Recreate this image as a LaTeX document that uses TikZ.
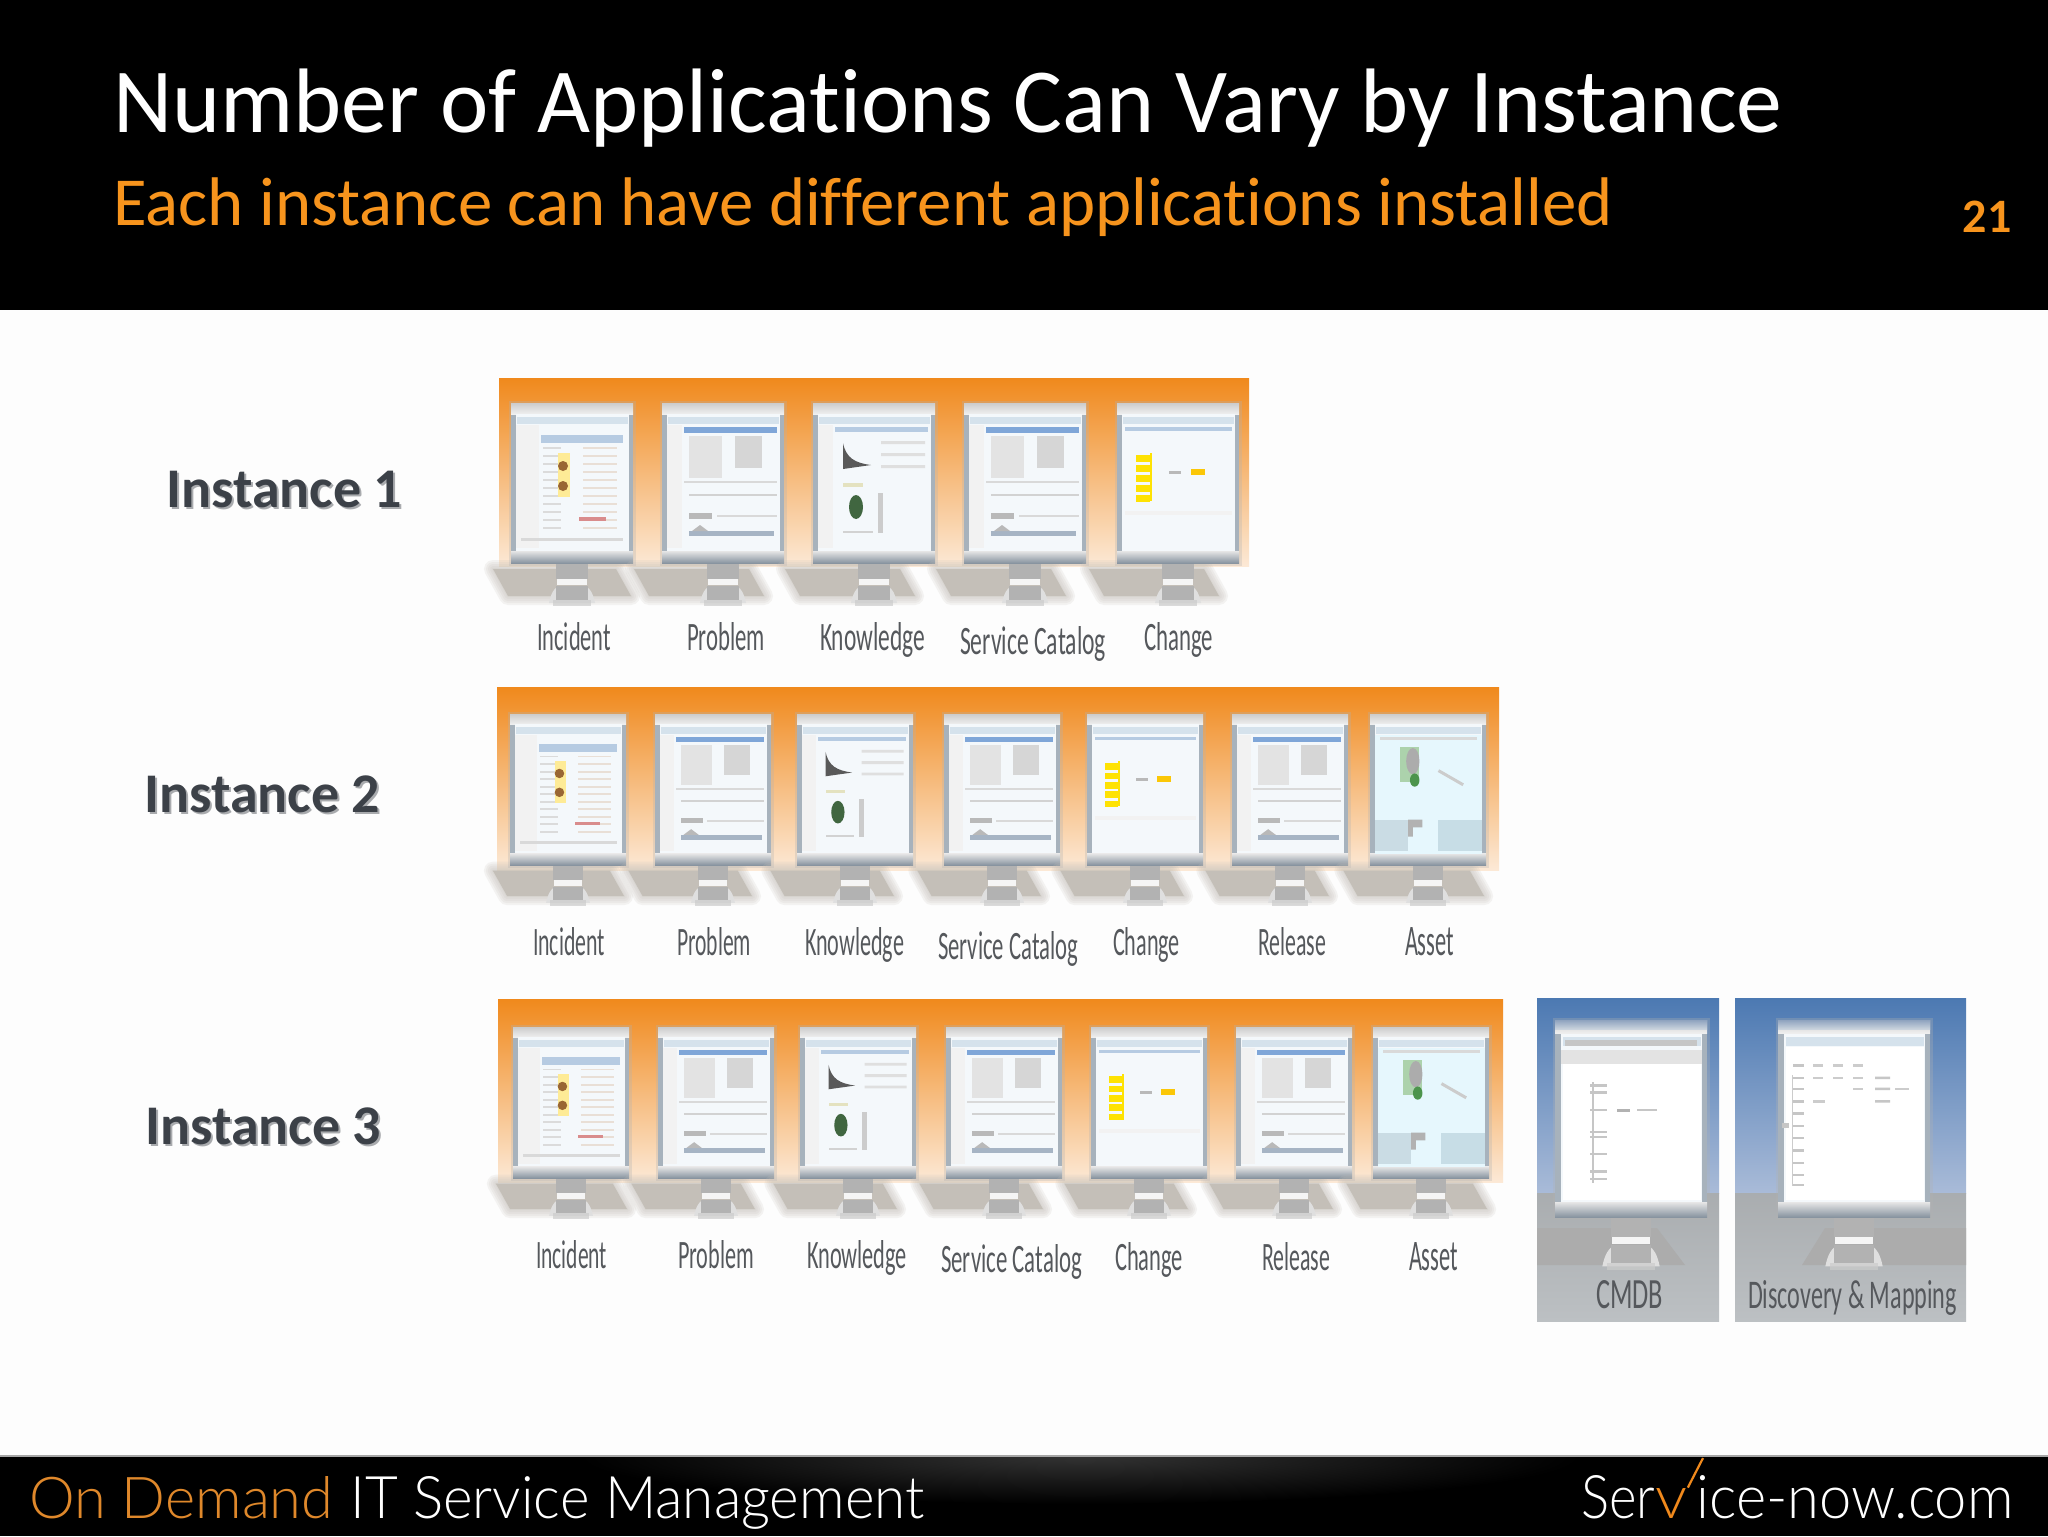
\documentclass[tikz,border=0pt]{standalone}
\usepackage{fontspec}
\setmainfont[Ligatures=NoCommon]{Carlito}
\newfontfamily\footfont[UprightFont=* Light]{Lato}
\usetikzlibrary{calc}
\definecolor{ornge}{HTML}{F0891C}
\definecolor{subor}{HTML}{F7941D}
\definecolor{orfade}{HTML}{FCE9D6}
\definecolor{floorg}{HTML}{C4BFB8}
\definecolor{bezel}{HTML}{A7B2BC}
\definecolor{labelg}{HTML}{55585C}
\definecolor{instg}{HTML}{3C4148}
\definecolor{instsh}{HTML}{A9ABAE}
\definecolor{skyt}{HTML}{4C79B2}
\definecolor{skyb}{HTML}{A9BBD8}
\definecolor{flor}{HTML}{BCC0C3}
\definecolor{scrn}{HTML}{F4F8FB}
\definecolor{tbar}{HTML}{D5E2EC}
\definecolor{hdrb}{HTML}{B6CBE2}
\definecolor{hdrs}{HTML}{7FA6D8}
\definecolor{botb}{HTML}{8894A0}
\definecolor{bigtop}{HTML}{8FA3BF}
\definecolor{bigtopb}{HTML}{D0D8E0}
\newcounter{lb}
\tikzset{
  lab/.style={anchor=base,inner sep=0pt,text=labelg},
  inst/.style={anchor=base west,inner sep=0pt,font=\fontsize{28}{30}\selectfont\bfseries},
  foot/.style={anchor=base west,inner sep=0pt,font=\footfont},
}
% blurred floor shadow, local monitor coordinates
\newcommand{\flshadow}[2]{%
  \foreach \lw in {9,7,5,3,1}{%
    \draw[floorg,opacity=.17,line width=\lw,line join=round] (#1,166) -- (#2,166) -- (#2+15,193) -- (#1+15,193) -- cycle;}
  \fill[floorg] (#1,166) -- (#2,166) -- (#2+15,193) -- (#1+15,193) -- cycle;
}
\newcommand{\stand}{%
  \fill[gray!60] (45,160) rectangle (77,176);
  \fill[white!92!gray] (46,176) rectangle (76,182);
  \fill[white!75!gray] (38,200) .. controls (40,190) and (43,186) .. (46,184) -- (76,184) .. controls (79,186) and (82,190) .. (84,200) -- cycle;
  \fill[gray!60] (45,183) rectangle (77,197);
  \fill[gray!40,opacity=.7] (42,197) rectangle (80,203);
}
\newcommand{\frm}{%
  \draw[gray!60,opacity=.3,line width=2.5] (0,0) rectangle (122,160);
  \fill[bezel] (0,0) rectangle (122,160);
  \shade[top color=gray!40,bottom color=gray!12] (0,0) rectangle (122,11);
  \fill[scrn] (5,11) rectangle (118,148);
  \shade[top color=gray!20,bottom color=botb] (0,148) rectangle (122,160);
  \fill[tbar] (6,14) rectangle (117,21);
}
\newcommand{\incidentapp}{%
  \fill[gray!10] (5,22) rectangle (28,145);
  \fill[hdrb] (30,32) rectangle (112,40);
  \foreach \yy in {44,52,...,124} {\fill[gray!28] (32,\yy) rectangle (50,\yy+2); \fill[orange!30!gray!25] (72,\yy) rectangle (106,\yy+2);}
  \fill[yellow!70!orange!40] (47,50) rectangle (59,94);
  \fill[brown!80!black] (52,63) circle (5);
  \fill[brown!80!black] (52,83) circle (5);
  \fill[red!50!gray!60] (68,114) rectangle (95,118);
  \fill[gray!30] (10,135) rectangle (112,138);
}
\newcommand{\problemapp}{%
  \fill[gray!10] (5,22) rectangle (20,145);
  \fill[hdrs] (22,24) rectangle (115,30);
  \fill[gray!22] (27,33) rectangle (60,75);
  \fill[gray!32] (73,33) rectangle (100,65);
  \fill[gray!30] (22,78) rectangle (115,80);
  \fill[gray!35] (27,91) rectangle (115,93);
  \fill[gray!55] (27,110) rectangle (50,116);
  \fill[gray!30] (55,112) rectangle (115,114);
  \fill[hdrb!70!gray] (27,128) rectangle (112,133);
  \fill[gray!55] (30,128) -- (38,122) -- (46,128) -- cycle;
}
\newcommand{\knowledgeapp}{%
  \fill[gray!10] (5,22) rectangle (20,145);
  \fill[hdrb] (22,24) rectangle (115,29);
  \fill[gray!70!black] (30,40) .. controls (33,55) and (42,60) .. (58,62) -- (30,66) -- cycle;
  \fill[green!20!black!75] (43,104) ellipse (7 and 12);
  \fill[yellow!40!gray!40] (30,80) rectangle (50,84);
  \fill[gray!40] (65,90) rectangle (70,130);
  \fill[gray!25] (68,38) rectangle (112,41) (68,50) rectangle (112,53) (68,62) rectangle (112,65);
  \fill[gray!35] (30,128) rectangle (60,130);
}
\newcommand{\changeapp}{%
  \fill[hdrb] (8,24) rectangle (115,28);
  \foreach \yy in {52,62,72,82,92} {\fill[yellow!85!orange] (19,\yy) rectangle (33,\yy+7);}
  \fill[yellow!85!orange] (33,50) rectangle (35,98);
  \fill[gray!55] (52,68) rectangle (64,71);
  \fill[yellow!60!orange] (74,66) rectangle (88,72);
  \fill[white!90!gray] (8,108) rectangle (115,112);
}
\newcommand{\assetapp}{%
  \fill[cyan!10] (5,22) rectangle (118,148);
  \fill[gray!30] (10,24) rectangle (112,28);
  \fill[green!30!gray!50] (32,35) rectangle (52,72);
  \fill[gray!65] (45,50) ellipse (7 and 14);
  \fill[green!40!black!70] (47,70) ellipse (5 and 7);
  \draw[gray!40,line width=1.5] (72,60) -- (98,75);
  \fill[cyan!35!gray!35] (5,112) rectangle (40,145);
  \fill[cyan!40!gray!35] (72,112) rectangle (118,145);
  \fill[gray!60] (40,112) -- (55,112) -- (55,120) -- (45,120) -- (45,130) -- (40,130) -- cycle;
}
% \mon{centre x}{top y}{width}{height}{shadow left}{shadow right}{app}
\newcommand{\mon}[7]{%
  \begin{scope}[shift={(#1-#3/2,#2)},xscale=#3/122,yscale=#4/160]
    \flshadow{#5}{#6}
    \stand
    \frm
    #7
  \end{scope}
}
% \lbl{left x}{right x}{baseline y}{text}
\newcommand{\lbl}[4]{%
  \stepcounter{lb}%
  \pgfmathsetlengthmacro{\lblw}{(#2-#1)/2}%
  \node[lab] (lab\thelb) at ({(#1+#2)/2},#3) {\resizebox{\lblw}{14pt}{#4}};
}
\newcommand{\orangeband}[4]{%
  \shade[top color=ornge,middle color=ornge!85!white,bottom color=orfade] (#1,#2) rectangle (#3,#4);
}
\begin{document}
\begin{tikzpicture}[x=0.5pt,y=-0.5pt]
\useasboundingbox (0,0) rectangle (2048,1536);
\fill[white!99.4!black] (0,0) rectangle (2048,1536);
% header
\fill[black] (0,0) rectangle (2048,310);
\node[anchor=base west,inner sep=0pt,text=white,font=\fontsize{45.8}{48}\selectfont] (title) at (113,133) {Number of Applications Can Vary by Instance};
\node[anchor=base west,inner sep=0pt,text=subor,font=\fontsize{34.4}{36}\selectfont] (subtitle) at (113,225) {Each instance can have different applications installed};
\node[anchor=base east,inner sep=0pt,text=subor,font=\fontsize{24}{26}\selectfont\bfseries] (page) at (2012,232) {21};
% footer
\fill[black] (0,1456) rectangle (2048,1536);
\begin{scope}
  \clip (0,1456) rectangle (2048,1536);
  \shade[inner color=gray!40!black,outer color=black] (1080,1456) ellipse (500 and 48);
\end{scope}
\draw[gray!70,line width=.8] (0,1456) -- (2048,1456);
\node[foot,text=ornge!85!gray] (ondemand) at (29,1518) {\resizebox{152pt}{21pt}{On Demand}};
\node[foot,text=white] (itsm) at (350,1518) {\resizebox{287pt}{21pt}{IT Service Management}};
\node[foot,text=white] (snow1) at (1581,1518) {\resizebox{37pt}{21.5pt}{Ser}};
\node[foot,text=ornge] (snow2) at (1655,1518) {\resizebox{16pt}{15pt}{v}};
\coordinate (checktop) at (1703,1458);
\draw[ornge,line width=1.1] (snow2.north east) -- (checktop);
\node[foot,text=white] (snow3) at (1696,1518) {\resizebox{158.5pt}{21.5pt}{ice-now.com}};
% instance labels
\node[inst,text=instsh] (i1s) at (168,509) {Instance 1};
\node[inst,text=instg] (i1) at (166,507) {Instance 1};
\node[inst,text=instsh] (i2s) at (146,814) {Instance 2};
\node[inst,text=instg] (i2) at (144,812) {Instance 2};
\node[inst,text=instsh] (i3s) at (147,1146) {Instance 3};
\node[inst,text=instg] (i3) at (145,1144) {Instance 3};
% row 1
\orangeband{499}{378}{1249}{566}
\mon{572}{403}{122}{160}{-18}{105}{\incidentapp}
\mon{723}{403}{122}{160}{-28}{87}{\problemapp}
\mon{874}{403}{122}{160}{-28}{87}{\knowledgeapp}
\mon{1025}{403}{122}{160}{-28}{87}{\problemapp}
\mon{1178}{403}{122}{160}{-28}{87}{\changeapp}
\lbl{537}{611}{650}{Incident}
\lbl{687}{765}{650}{Problem}
\lbl{820}{925}{650}{Knowledge}
\lbl{960}{1106}{654}{Service Catalog}
\lbl{1144}{1213}{650}{Change}
% row 2
\orangeband{497}{687}{1499}{870}
\mon{568}{714}{116}{151}{-18}{105}{\incidentapp}
\mon{713}{714}{116}{151}{-28}{87}{\problemapp}
\mon{855}{714}{116}{151}{-28}{87}{\knowledgeapp}
\mon{1002}{714}{116}{151}{-28}{87}{\problemapp}
\mon{1145}{714}{116}{151}{-28}{87}{\changeapp}
\mon{1290}{714}{116}{151}{-28}{87}{\problemapp}
\mon{1428}{714}{116}{151}{-28}{105}{\assetapp}
\lbl{533}{605}{955}{Incident}
\lbl{677}{751}{955}{Problem}
\lbl{805}{904}{955}{Knowledge}
\lbl{938}{1078}{959}{Service Catalog}
\lbl{1113}{1180}{955}{Change}
\lbl{1258}{1326}{955}{Release}
\lbl{1405}{1454}{955}{Asset}
% row 3
\orangeband{498}{999}{1503}{1182}
\mon{571}{1027}{116}{151}{-18}{105}{\incidentapp}
\mon{716}{1027}{116}{151}{-28}{87}{\problemapp}
\mon{858}{1027}{116}{151}{-28}{87}{\knowledgeapp}
\mon{1004}{1027}{116}{151}{-28}{87}{\problemapp}
\mon{1149}{1027}{116}{151}{-28}{87}{\changeapp}
\mon{1294}{1027}{116}{151}{-28}{87}{\problemapp}
\mon{1431}{1027}{116}{151}{-28}{105}{\assetapp}
\lbl{536}{607}{1268}{Incident}
\lbl{678}{754}{1268}{Problem}
\lbl{807}{907}{1268}{Knowledge}
\lbl{941}{1082}{1272}{Service Catalog}
\lbl{1115}{1183}{1270}{Change}
\lbl{1262}{1330}{1270}{Release}
\lbl{1409}{1458}{1270}{Asset}
% CMDB panel
\shade[top color=skyt,bottom color=skyb] (1537,998) rectangle (1719,1193);
\shade[top color=flor!90!black,bottom color=flor] (1537,1193) rectangle (1719,1321);
\fill[gray!65] (1537,1228) -- (1657,1228) -- (1685,1265) -- (1537,1265) -- cycle;
\begin{scope}[shift={(1555,1020)},xscale=152/122,yscale=197/160]
  \stand
  \frm
  \shade[top color=bigtop,bottom color=bigtopb] (0,0) rectangle (122,8);
  \fill[gray!45] (8,16) rectangle (114,21);
  \fill[gray!22] (5,24) rectangle (118,36);
  \fill[white] (6,36) rectangle (117,146);
  \foreach \yy in {52,58,72,90,94,108,122,128} {\fill[gray!45] (28,\yy) rectangle (42,\yy+2);}
  \fill[gray!45] (30,50) rectangle (31,132);
  \fill[gray!60] (50,72) rectangle (60,75);
  \fill[gray!45] (66,72) rectangle (82,74);
\end{scope}
\lbl{1596}{1663}{1308}{CMDB}
% Discovery panel
\shade[top color=skyt,bottom color=skyb] (1735,998) rectangle (1966,1193);
\shade[top color=flor!90!black,bottom color=flor] (1735,1193) rectangle (1966,1321);
\fill[gray!65] (1966,1228) -- (1825,1228) -- (1802,1265) -- (1966,1265) -- cycle;
\begin{scope}[shift={(1778,1020)},xscale=152/122,yscale=197/160]
  \stand
  \frm
  \shade[top color=bigtop,bottom color=bigtopb] (0,0) rectangle (122,8);
  \fill[white] (6,22) rectangle (117,146);
  \foreach \yy in {36,46,55,65,75,85,95,105,115,125,133} {\fill[gray!45] (12,\yy) rectangle (21,\yy+2);}
  \fill[gray!40] (11,45) rectangle (12,135);
  \fill[gray!45] (3,84) rectangle (9,88);
  \foreach \xx in {28,44,60} {\fill[gray!40] (\xx,36) rectangle (\xx+8,38); \fill[gray!40] (\xx,46) rectangle (\xx+8,48);}
  \fill[gray!40] (60,55) rectangle (68,57);
  \fill[gray!40] (28,65) rectangle (38,67);
  \fill[gray!45] (78,46) rectangle (90,48) (78,55) rectangle (90,57) (78,65) rectangle (90,67);
  \fill[gray!40] (94,55) rectangle (105,57);
\end{scope}
\lbl{1748}{1957}{1308}{Discovery \& Mapping}
\end{tikzpicture}
\end{document}
